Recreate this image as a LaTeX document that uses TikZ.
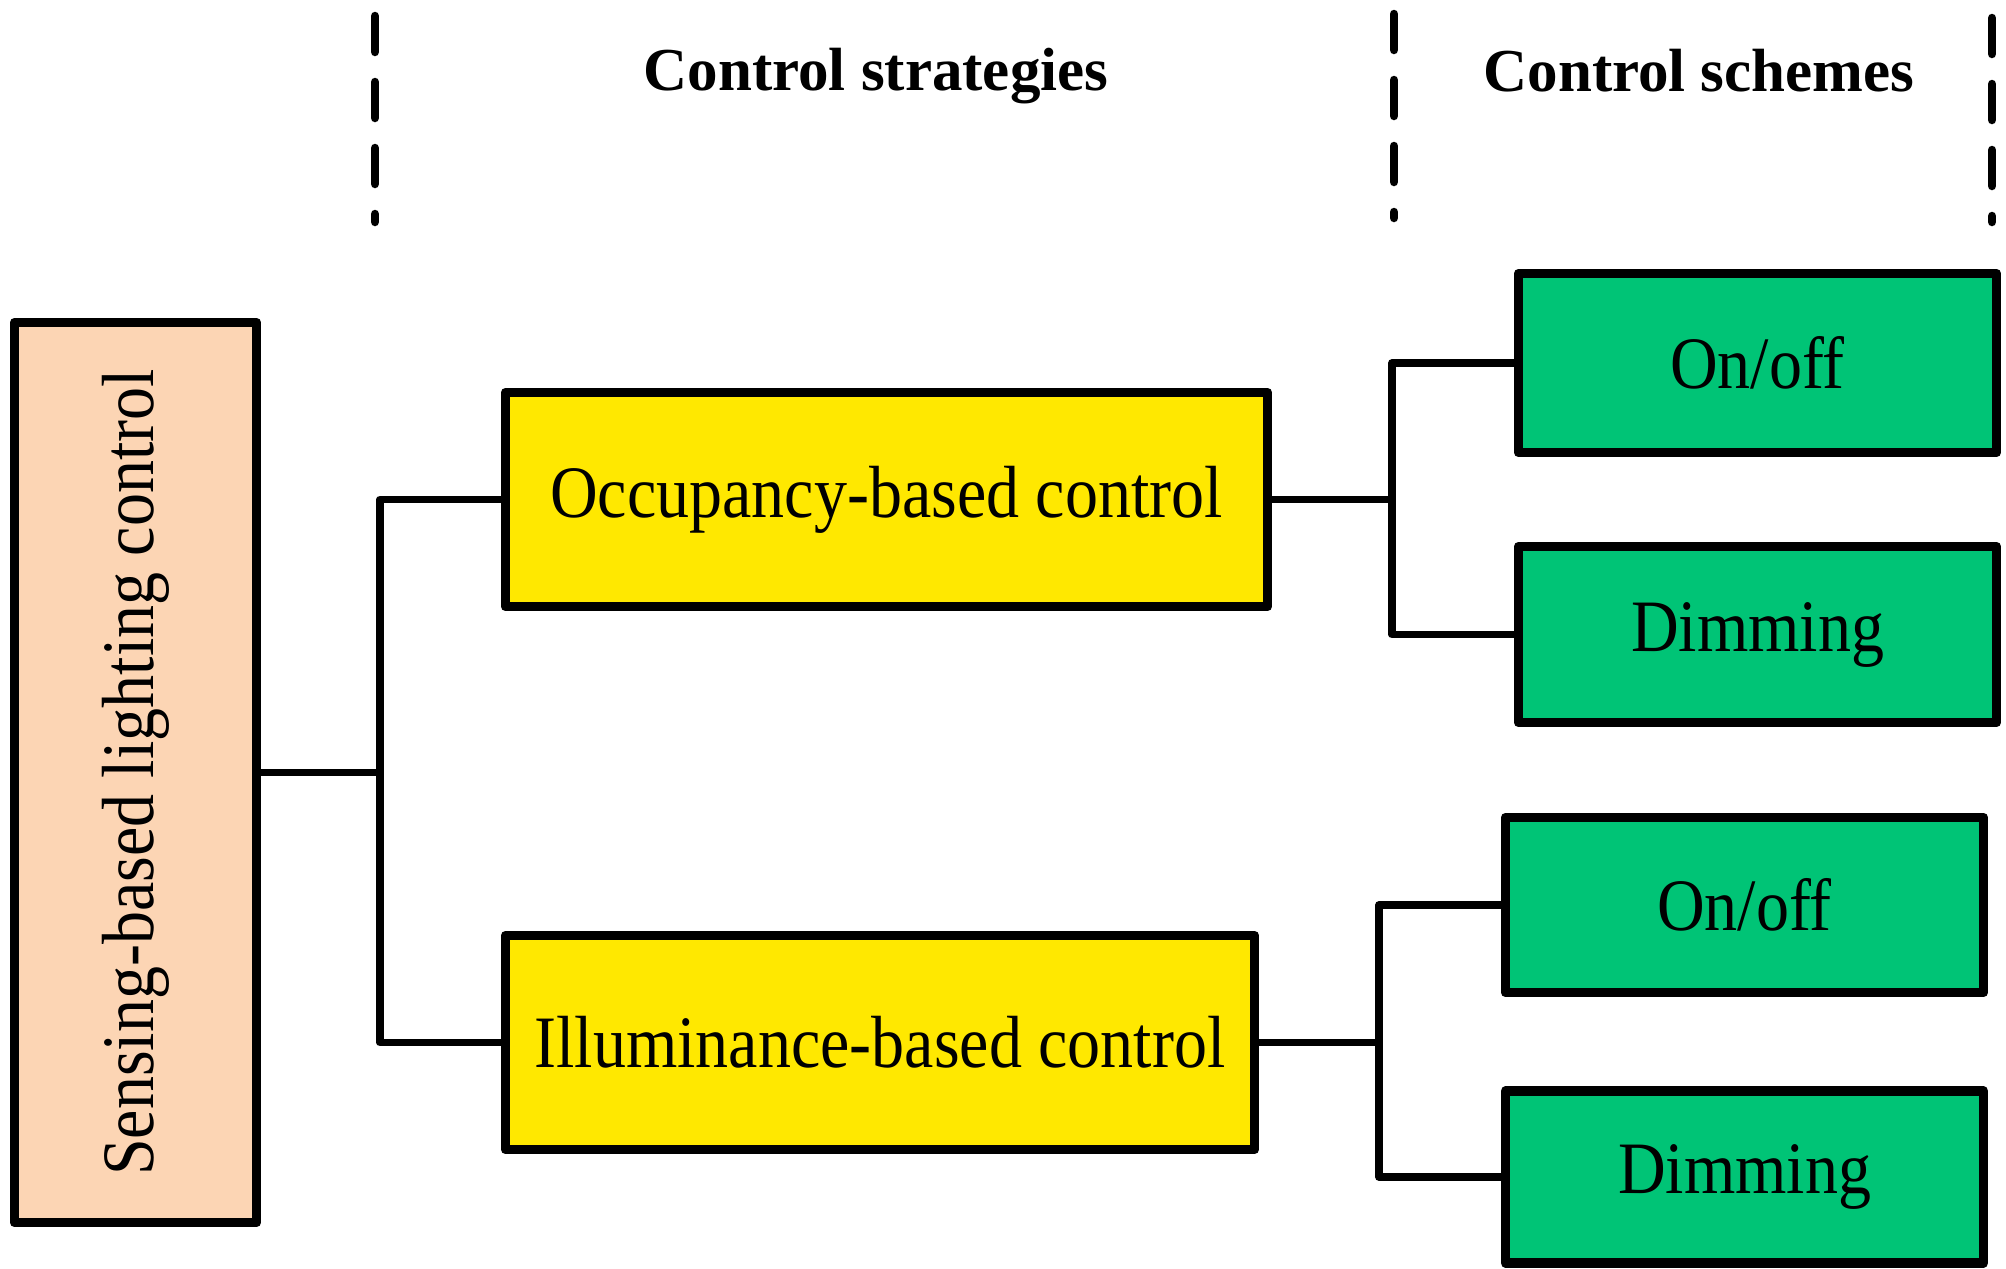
\documentclass[tikz,border=0pt]{standalone}
\usepackage{fontspec}
\setmainfont{Liberation Serif}
\definecolor{peach}{RGB}{252,213,180}
\definecolor{ybox}{RGB}{255,232,0}
\definecolor{gbox}{RGB}{0,196,118}
\begin{document}
\begin{tikzpicture}[x=1pt,y=-1pt,
  boxbase/.style={draw=black,line width=9.5pt,line join=round,inner sep=0pt,anchor=center},
  peachbox/.style={boxbase,fill=peach},
  yellowbox/.style={boxbase,fill=ybox},
  greenbox/.style={boxbase,fill=gbox},
  conn/.style={line width=7.5pt,line join=round},
  divider/.style={line width=8.5pt,dash pattern=on 36pt off 30pt,line cap=round},
  boxtext/.style={font=\fontsize{66}{70}\selectfont},
  headtext/.style={font=\fontsize{61}{66}\selectfont\bfseries}]
\useasboundingbox (0,0) rectangle (2006,1269);
% dividers
\coordinate (d1a) at (375,16); \coordinate (d1b) at (375,222);
\coordinate (d2a) at (1394,14); \coordinate (d2b) at (1394,218);
\coordinate (d3a) at (1992,18); \coordinate (d3b) at (1992,222);
\draw[divider] (d1a) -- (d1b);
\draw[divider] (d2a) -- (d2b);
\draw[divider] (d3a) -- (d3b);
% headers
\node[headtext] (h1) at (876,76) {Control strategies};
\node[headtext] (h2) at (1699,71) {Control schemes};
% boxes
\node[peachbox,minimum width=242pt,minimum height=900pt] (root) at (135.5,772.5) {};
\node[boxtext,rotate=90] (roott) at (135.5,772.5) {\scalebox{1}[1.12]{Sensing-based lighting control}};
\node[yellowbox,minimum width=762pt,minimum height=214pt,boxtext] (occ) at (886.5,499.5) {\scalebox{1}[1.12]{Occupancy-based control}};
\node[yellowbox,minimum width=749pt,minimum height=214pt,boxtext] (ill) at (880,1042.5) {\scalebox{1}[1.12]{Illuminance-based control}};
\node[greenbox,minimum width=478pt,minimum height=179pt,boxtext] (on1) at (1757.5,363) {\scalebox{1}[1.12]{On/off}};
\node[greenbox,minimum width=478pt,minimum height=176pt,boxtext] (dim1) at (1757.5,634.5) {\scalebox{1}[1.12]{Dimming}};
\node[greenbox,minimum width=478pt,minimum height=175pt,boxtext] (on2) at (1744.5,905) {\scalebox{1}[1.12]{On/off}};
\node[greenbox,minimum width=478pt,minimum height=172pt,boxtext] (dim2) at (1744.5,1177) {\scalebox{1}[1.12]{Dimming}};
% connectors
\coordinate (j0) at (380,772.5);
\draw[conn] (root.east) -- (j0);
\draw[conn] (occ.west) -| (j0) |- (ill.west);
\coordinate (j1) at (1392,499.5);
\draw[conn] (occ.east) -- (j1);
\draw[conn] (on1.west) -| (j1) |- (dim1.west);
\coordinate (j2) at (1379,1042.5);
\draw[conn] (ill.east) -- (j2);
\draw[conn] (on2.west) -| (j2) |- (dim2.west);
\end{tikzpicture}
\end{document}
